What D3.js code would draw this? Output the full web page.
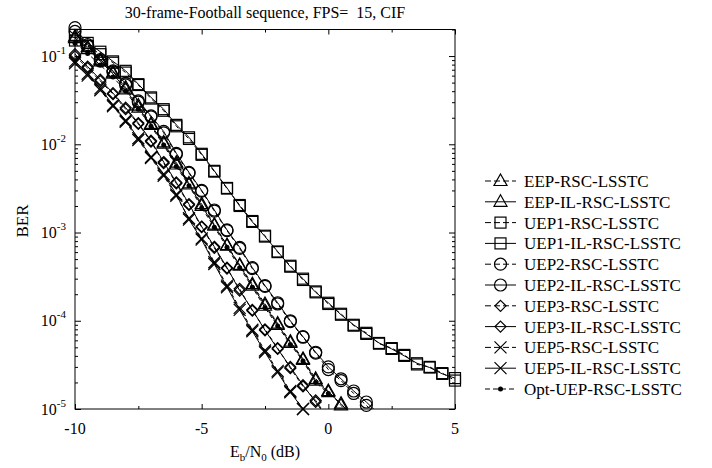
<!DOCTYPE html>
<html>
<head>
<meta charset="utf-8">
<script src="https://cdn.jsdelivr.net/npm/d3@7"></script>
<style>
body { margin: 0; background: #fff; }
svg { font-family: "Liberation Serif", "Times New Roman", serif; }
</style>
</head>
<body>
<svg id="chart" width="712" height="468"></svg>
<script>
// Eb/N0 grid (dB), every curve starts at -10 dB
const snr = [-10, -9.5, -9, -8.5, -8, -7.5, -7, -6.5, -6, -5.5, -5, -4.5, -4, -3.5, -3, -2.5, -2, -1.5, -1, -0.5, 0, 0.5, 1, 1.5, 2, 2.5, 3, 3.5, 4, 4.5, 5]

// BER
const eepRsc = [0.166, 0.126, 9.1e-2, 6.5e-2, 4.4e-2, 2.75e-2, 1.7e-2, 1.05e-2, 6.2e-3, 3.6e-3, 2.1e-3, 1.23e-3, 7.2e-4, 4.3e-4, 2.6e-4, 1.55e-4, 9.3e-5, 5.8e-5, 3.7e-5, 2.2e-5, 1.6e-5, 1.1e-5, 7.6e-6]
const eepIl = [0.16, 0.12, 8.7e-2, 6.3e-2, 4.2e-2, 2.6e-2, 1.66e-2, 1.02e-2, 5.9e-3, 3.5e-3, 2.0e-3, 1.2e-3, 7.1e-4, 4.2e-4, 2.5e-4, 1.48e-4, 9.0e-5, 5.6e-5, 3.6e-5, 2.1e-5, 1.55e-5, 1.15e-5, 7.9e-6]
const uep1Rsc = [0.15, 0.13, 0.105, 8.4e-2, 6.5e-2, 4.7e-2, 3.3e-2, 2.4e-2, 1.6e-2, 1.15e-2, 7.6e-3, 4.9e-3, 3.15e-3, 2.05e-3, 1.35e-3, 9.2e-4, 6.0e-4, 4.2e-4, 2.9e-4, 2.15e-4, 1.55e-4, 1.2e-4, 8.8e-5, 7.3e-5, 5.5e-5, 4.9e-5, 4.1e-5, 3.2e-5, 3.0e-5, 2.55e-5, 2.1e-5]
const uep1Il = [0.174, 0.141, 0.112, 8.7e-2, 6.8e-2, 4.8e-2, 3.4e-2, 2.5e-2, 1.66e-2, 1.2e-2, 7.8e-3, 5.0e-3, 3.2e-3, 2.0e-3, 1.32e-3, 9.0e-4, 6.1e-4, 4.1e-4, 3.0e-4, 2.1e-4, 1.6e-4, 1.17e-4, 9.0e-5, 7.1e-5, 5.6e-5, 4.8e-5, 4.0e-5, 3.3e-5, 2.95e-5, 2.5e-5, 2.24e-5]
const uep2Rsc = [0.19, 0.13, 8.8e-2, 6.6e-2, 4.7e-2, 3.0e-2, 2.05e-2, 1.35e-2, 7.7e-3, 4.7e-3, 2.95e-3, 1.75e-3, 1.05e-3, 6.6e-4, 3.9e-4, 2.45e-4, 1.55e-4, 9.8e-5, 6.5e-5, 4.3e-5, 2.8e-5, 2.1e-5, 1.5e-5, 1.1e-5, 8.0e-6]
const uep2Il = [0.21, 0.135, 9.1e-2, 6.8e-2, 4.9e-2, 3.1e-2, 2.1e-2, 1.4e-2, 7.9e-3, 4.8e-3, 3.0e-3, 1.8e-3, 1.07e-3, 6.8e-4, 4.0e-4, 2.5e-4, 1.6e-4, 1.0e-4, 6.6e-5, 4.4e-5, 3.0e-5, 2.2e-5, 1.6e-5, 1.2e-5, 8.7e-6]
const uep3Rsc = [0.1, 7.3e-2, 5.2e-2, 3.7e-2, 2.5e-2, 1.7e-2, 1.07e-2, 6.1e-3, 3.6e-3, 2.05e-3, 1.15e-3, 6.7e-4, 3.9e-4, 2.3e-4, 1.3e-4, 8.0e-5, 4.9e-5, 2.9e-5, 1.8e-5, 1.25e-5, 7.8e-6]
const uep3Il = [0.105, 7.6e-2, 5.4e-2, 3.8e-2, 2.6e-2, 1.74e-2, 1.1e-2, 6.3e-3, 3.7e-3, 2.1e-3, 1.17e-3, 6.9e-4, 4.0e-4, 2.2e-4, 1.33e-4, 7.8e-5, 4.8e-5, 3.0e-5, 1.86e-5, 1.2e-5, 7.6e-6]
const uep5Rsc = [8.3e-2, 6.0e-2, 4.1e-2, 2.7e-2, 1.8e-2, 1.12e-2, 7.0e-3, 4.4e-3, 2.6e-3, 1.45e-3, 8.6e-4, 4.6e-4, 2.5e-4, 1.4e-4, 7.9e-5, 4.6e-5, 2.7e-5, 1.6e-5, 1.0e-5]
const uep5Il = [8.7e-2, 6.3e-2, 4.3e-2, 2.8e-2, 1.86e-2, 1.17e-2, 7.2e-3, 4.6e-3, 2.7e-3, 1.4e-3, 8.3e-4, 4.4e-4, 2.4e-4, 1.33e-4, 7.6e-5, 4.4e-5, 2.6e-5, 1.55e-5, 1.0e-5]
const optUep = [0.14, 0.107, 7.9e-2, 5.8e-2, 4.0e-2, 2.5e-2, 1.6e-2, 9.8e-3, 5.6e-3, 3.4e-3, 1.9e-3, 1.15e-3, 6.8e-4, 4.0e-4, 2.4e-4, 1.4e-4, 8.7e-5, 5.4e-5, 3.5e-5, 2.0e-5, 1.5e-5]

const seriesNames = ['EEP-RSC-LSSTC', 'EEP-IL-RSC-LSSTC', 'UEP1-RSC-LSSTC', 'UEP1-IL-RSC-LSSTC', 'UEP2-RSC-LSSTC', 'UEP2-IL-RSC-LSSTC', 'UEP3-RSC-LSSTC', 'UEP3-IL-RSC-LSSTC', 'UEP5-RSC-LSSTC', 'UEP5-IL-RSC-LSSTC', 'Opt-UEP-RSC-LSSTC']
const seriesValues = [eepRsc, eepIl, uep1Rsc, uep1Il, uep2Rsc, uep2Il, uep3Rsc, uep3Il, uep5Rsc, uep5Il, optUep]
const seriesShapes = ['triangle', 'triangle', 'square', 'square', 'circle', 'circle', 'diamond', 'diamond', 'cross', 'cross', 'dot']

const xMajor = [-10, -5, 0, 5]
const xMinor = [-7.5, -2.5, 2.5]
const yExp = [-1, -2, -3, -4, -5]

const series = seriesNames.map((name, i) => ({
	name,
	shape: seriesShapes[i],
	dashed: name.indexOf('-IL-') < 0,
	points: seriesValues[i].map((v, j) => ({x: snr[j], y: v}))
}))

const svg = d3.select('#chart')
const plotL = 75, plotR = 455, plotT = 29.5, plotB = 409

const x = d3.scaleLinear().domain([-10, 5]).range([plotL, plotR])
const y = d3.scaleLog().domain([1e-5, 0.2]).range([plotB, plotT])

svg.append('defs').append('clipPath').attr('id', 'plotclip')
	.append('rect')
	.attr('x', plotL).attr('y', plotT)
	.attr('width', plotR - plotL).attr('height', plotB - plotT)

// title (two spaces after "FPS=" kept with a no-break space)
svg.append('text')
	.attr('x', (plotL + plotR) / 2).attr('y', 18)
	.attr('text-anchor', 'middle')
	.attr('font-size', 16)
	.text('30-frame-Football sequence, FPS=\u00a0 15, CIF')

// ticks (inside, on all four sides)
const yMinor = []
for (let e = -5; e < 0; e++) {
	for (let k = 2; k <= 9; k++) {
		const v = k * Math.pow(10, e)
		if (v <= 0.2) yMinor.push(v)
	}
}

function tickAxis(axis, pos, values, size) {
	const g = svg.append('g')
		.attr('transform', pos)
		.call(axis.tickValues(values).tickSize(size).tickSizeOuter(0).tickFormat(''))
	g.select('.domain').remove()
	g.selectAll('line').attr('stroke', '#000').attr('stroke-width', 1)
	return g
}

tickAxis(d3.axisBottom(x), `translate(0,${plotB})`, xMajor, -5)
tickAxis(d3.axisBottom(x), `translate(0,${plotB})`, xMinor, -3)
tickAxis(d3.axisTop(x), `translate(0,${plotT})`, xMajor, -5)
tickAxis(d3.axisTop(x), `translate(0,${plotT})`, xMinor, -3)
tickAxis(d3.axisLeft(y), `translate(${plotL},0)`, yExp.map(e => Math.pow(10, e)), -6)
tickAxis(d3.axisLeft(y), `translate(${plotL},0)`, yMinor, -3)
tickAxis(d3.axisRight(y), `translate(${plotR},0)`, yExp.map(e => Math.pow(10, e)), -6)
tickAxis(d3.axisRight(y), `translate(${plotR},0)`, yMinor, -3)

svg.append('rect')
	.attr('x', plotL).attr('y', plotT)
	.attr('width', plotR - plotL).attr('height', plotB - plotT)
	.attr('fill', 'none').attr('stroke', '#000').attr('stroke-width', 1)

// tick labels
svg.append('g').selectAll('text')
	.data(xMajor).enter().append('text')
	.attr('x', d => x(d)).attr('y', plotB + 25)
	.attr('text-anchor', 'middle').attr('font-size', 16)
	.text(d => d)

const yLab = svg.append('g').selectAll('text')
	.data(yExp).enter().append('text')
	.attr('x', 66).attr('y', d => y(Math.pow(10, d)) + 5.5)
	.attr('text-anchor', 'end').attr('font-size', 16)
yLab.append('tspan').text('10')
yLab.append('tspan').attr('dy', -8).attr('font-size', 11).text(d => d)

// axis titles
const xt = svg.append('text')
	.attr('x', (plotL + plotR) / 2).attr('y', 457)
	.attr('text-anchor', 'middle').attr('font-size', 16)
xt.append('tspan').text('E')
xt.append('tspan').attr('dy', 4).attr('font-size', 11).text('b')
xt.append('tspan').attr('dy', -4).text('/N')
xt.append('tspan').attr('dy', 4).attr('font-size', 11).text('0')
xt.append('tspan').attr('dy', -4).text(' (dB)')

svg.append('text')
	.attr('transform', 'translate(28,221) rotate(-90)')
	.attr('text-anchor', 'middle').attr('font-size', 17)
	.text('BER')

// markers
function marker(g, shape, cx, cy) {
	if (shape === 'triangle') {
		g.append('path').attr('d', `M${cx},${cy - 7}L${cx + 6.5},${cy + 4.5}L${cx - 6.5},${cy + 4.5}Z`)
			.attr('fill', 'none').attr('stroke', '#000').attr('stroke-width', 1.2)
	} else if (shape === 'square') {
		g.append('rect').attr('x', cx - 5.5).attr('y', cy - 5.5).attr('width', 11).attr('height', 11)
			.attr('fill', 'none').attr('stroke', '#000').attr('stroke-width', 1.2)
	} else if (shape === 'circle') {
		g.append('circle').attr('cx', cx).attr('cy', cy).attr('r', 6)
			.attr('fill', 'none').attr('stroke', '#000').attr('stroke-width', 1.2)
	} else if (shape === 'diamond') {
		g.append('path').attr('d', `M${cx},${cy - 5.5}L${cx + 5.5},${cy}L${cx},${cy + 5.5}L${cx - 5.5},${cy}Z`)
			.attr('fill', 'none').attr('stroke', '#000').attr('stroke-width', 1.2)
	} else if (shape === 'cross') {
		g.append('path').attr('d', `M${cx - 6},${cy - 6}L${cx + 6},${cy + 6}M${cx - 6},${cy + 6}L${cx + 6},${cy - 6}`)
			.attr('fill', 'none').attr('stroke', '#000').attr('stroke-width', 1.2)
	} else {
		g.append('circle').attr('cx', cx).attr('cy', cy).attr('r', 2.5).attr('fill', '#000')
	}
}

const line = d3.line().x(d => x(d.x)).y(d => y(d.y))

const linesG = svg.append('g').attr('clip-path', 'url(#plotclip)')
series.forEach(s => {
	linesG.append('path')
		.datum(s.points)
		.attr('d', line)
		.attr('fill', 'none')
		.attr('stroke', '#000')
		.attr('stroke-width', 1)
		.attr('stroke-dasharray', s.dashed ? '4,3' : null)
})

const markG = svg.append('g')
series.forEach(s => {
	s.points.filter(p => p.y >= 0.95e-5).forEach(p => marker(markG, s.shape, x(p.x), y(p.y)))
})

// legend
const legend = svg.append('g')
series.forEach((s, i) => {
	const cy = 181 + i * 20.8
	legend.append('line')
		.attr('x1', 485).attr('x2', 516).attr('y1', cy).attr('y2', cy)
		.attr('stroke', '#000').attr('stroke-width', 1)
		.attr('stroke-dasharray', s.dashed ? (s.shape === 'dot' ? '5,3' : '6,3') : null)
	marker(legend, s.shape, 500.5, cy)
	legend.append('text')
		.attr('x', 524).attr('y', cy + 6)
		.attr('font-size', 17)
		.text(s.name)
})
</script>
</body>
</html>
